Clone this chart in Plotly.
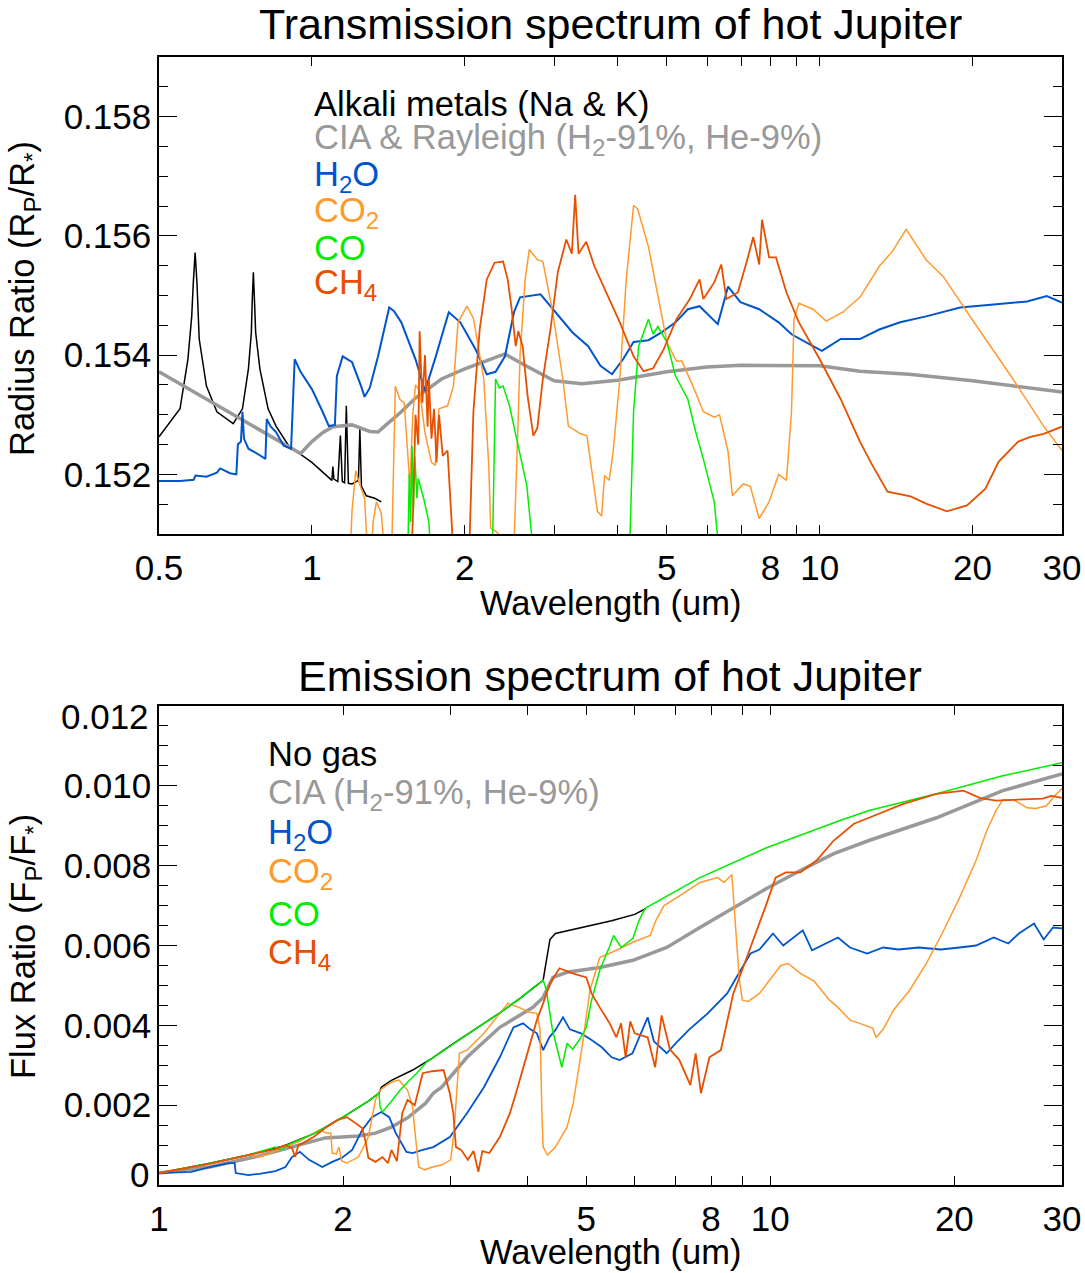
import math
import plotly.graph_objects as go

# ---------------- Transmission spectrum (top) ----------------
BOT = 0.1500  # below the visible axis range (saturated absorption)

t_alk_wl = [0.5, 0.55, 0.57, 0.58, 0.584, 0.589, 0.594, 0.6, 0.62, 0.65, 0.7, 0.73, 0.75, 0.76, 0.763,
            0.767, 0.771, 0.775, 0.79, 0.82, 0.85, 0.9, 1.0, 1.095, 1.1, 1.105, 1.125, 1.138, 1.148,
            1.16, 1.169, 1.18, 1.2, 1.235, 1.243, 1.252, 1.28, 1.33, 1.37]
t_alk_val = [0.15263, 0.1531, 0.15393, 0.15465, 0.1552, 0.15572, 0.1552, 0.15427, 0.15348, 0.15305,
             0.15285, 0.1531, 0.15377, 0.15438, 0.1549, 0.15539, 0.1549, 0.15438, 0.15377, 0.1531,
             0.15281, 0.15248, 0.1522, 0.1519, 0.15213, 0.15192, 0.15188, 0.15265, 0.15188, 0.15186,
             0.15315, 0.15185, 0.15184, 0.1519, 0.15276, 0.1518, 0.15164, 0.1516, 0.15154]

t_cia_wl = [0.5, 0.6, 0.7, 0.8, 0.9, 0.95, 1.0, 1.05, 1.1, 1.2, 1.3, 1.35, 1.4, 1.5, 1.6, 1.7, 1.8, 2.0,
            2.2, 2.4, 2.6, 2.8, 3.0, 3.4, 4.0, 5.0, 6.0, 7.0, 9.0, 10, 12, 15, 20, 25, 30]
t_cia_val = [0.15372, 0.15333, 0.15300, 0.15271, 0.15245, 0.15235, 0.15255, 0.1527, 0.1528, 0.15283,
             0.15272, 0.15271, 0.15283, 0.15305, 0.15328, 0.15345, 0.1536, 0.15377, 0.1539, 0.15402,
             0.15385, 0.1537, 0.15357, 0.15352, 0.15358, 0.15372, 0.1538, 0.15383, 0.15383, 0.15382,
             0.15373, 0.15368, 0.15357, 0.15347, 0.15338]

t_h2o_wl = [0.5, 0.55, 0.585, 0.59, 0.62, 0.65, 0.66, 0.69, 0.71, 0.715, 0.725, 0.73, 0.735, 0.75,
            0.78, 0.81, 0.815, 0.83, 0.85, 0.88, 0.91, 0.925, 0.95, 1.0, 1.05, 1.08, 1.11, 1.12, 1.15,
            1.2, 1.25, 1.27, 1.3, 1.35, 1.42, 1.45, 1.5, 1.6, 1.67, 1.75, 1.86, 1.96, 2.1, 2.21, 2.3,
            2.4, 2.5, 2.57, 2.82, 2.98, 3.26, 3.5, 3.7, 3.9, 4.1, 4.3, 4.6, 4.88, 5.2, 5.5, 5.8, 6.3,
            6.6, 6.98, 7.6, 8.3, 8.8, 9.7, 10.1, 11, 12, 13.1, 14.4, 16.2, 18.9, 22, 25.6, 28, 30]
t_h2o_val = [0.15189, 0.15189, 0.15191, 0.15198, 0.15196, 0.15203, 0.1521, 0.15202, 0.152, 0.1525,
             0.15255, 0.15305, 0.1526, 0.15243, 0.15235, 0.15226, 0.15293, 0.1528, 0.15271, 0.15248,
             0.15243, 0.15393, 0.15372, 0.15343, 0.15305, 0.15281, 0.15283, 0.15365, 0.15398,
             0.15388, 0.15348, 0.1533, 0.15345, 0.15398, 0.1548, 0.15474, 0.15455, 0.15393, 0.1534,
             0.15395, 0.15472, 0.15455, 0.1541, 0.15368, 0.15372, 0.15398, 0.15472, 0.15497,
             0.15502, 0.15477, 0.15438, 0.15415, 0.15382, 0.15368, 0.15393, 0.15422, 0.15425,
             0.15438, 0.15455, 0.15477, 0.15482, 0.15452, 0.15515, 0.15489, 0.15477, 0.15455,
             0.15435, 0.15415, 0.15407, 0.15427, 0.15427, 0.15443, 0.15455, 0.15465, 0.1548,
             0.15485, 0.1549, 0.15499, 0.15488]

t_co2_wl = [1.18, 1.2, 1.22, 1.24, 1.27, 1.3, 1.32, 1.34, 1.37, 1.41, 1.43, 1.46, 1.49, 1.52, 1.54,
            1.56, 1.58, 1.6, 1.63, 1.67, 1.72, 1.75, 1.78, 1.85, 1.9, 1.94, 2.02, 2.08, 2.18, 2.23,
            2.25, 2.3, 2.4, 2.5, 2.55, 2.57, 2.63, 2.68, 2.78, 2.85, 2.98, 3.12, 3.2, 3.38, 3.48,
            3.55, 3.65, 3.72, 3.75, 3.77, 3.85, 3.92, 4.04, 4.16, 4.3, 4.38, 4.6, 4.8, 5.0, 5.22,
            5.35, 5.63, 5.9, 6.2, 6.35, 6.6, 6.73, 7.07, 7.3, 7.6, 7.95, 8.3, 8.6, 8.8, 8.9, 9.1,
            9.7, 10.3, 11.1, 12, 13.1, 13.9, 14.8, 16.2, 17.5, 20.4, 23.8, 27.6, 30]
t_co2_val = [BOT, 0.1514, 0.15206, 0.15185, 0.1516, BOT, 0.1512, 0.15154, 0.15135, BOT, BOT,
             0.15348, 0.15326, 0.1532, 0.1525, 0.1518, 0.153, 0.1535, 0.1534, 0.1527, 0.1522,
             0.15215, 0.1531, 0.15315, 0.15348, 0.15455, 0.15482, 0.15462, 0.1536, 0.15215,
             0.1511, 0.15105, 0.1509, 0.1508, 0.153, 0.154, 0.15527, 0.15577, 0.1556, 0.15557,
             0.15472, 0.1536, 0.15281, 0.15268, 0.15265, 0.1521, 0.15138, 0.1513, 0.1518, 0.15198,
             0.1519, 0.15238, 0.1536, 0.15527, 0.15651, 0.15645, 0.15582, 0.15499, 0.15422,
             0.1539, 0.1539, 0.15348, 0.15305, 0.15296, 0.153, 0.15238, 0.15164, 0.15184, 0.1518,
             0.15126, 0.15154, 0.152, 0.1519, 0.15305, 0.1546, 0.15487, 0.15477, 0.15457, 0.15472,
             0.15497, 0.15549, 0.15574, 0.15611, 0.1556, 0.15532, 0.15448, 0.15365, 0.15281, 0.1524]

t_co_wl = [1.54, 1.555, 1.565, 1.575, 1.585, 1.595, 1.61, 1.62, 1.66, 1.7, 1.73, 2.26, 2.3, 2.34,
           2.38, 2.45, 2.53, 2.65, 2.78, 4.2, 4.3, 4.4, 4.6, 4.7, 4.8, 5.0, 5.2, 5.5, 5.7, 5.9, 6.2, 6.45]
t_co_val = [BOT, 0.1520, 0.1512, 0.15248, 0.1514, 0.1523, 0.1516, 0.15193, 0.1516, 0.1512, BOT, BOT,
            0.1536, 0.15345, 0.15348, 0.15315, 0.1526, 0.15181, BOT, BOT, 0.15305, 0.15415, 0.1546,
            0.15435, 0.15448, 0.15422, 0.15365, 0.15326, 0.15271, 0.15226, 0.15154, BOT]

t_ch4_wl = [1.56, 1.58, 1.6, 1.62, 1.63, 1.65, 1.67, 1.69, 1.7, 1.72, 1.74, 1.76, 1.78, 1.81, 1.85,
            1.88, 1.92, 2.03, 2.06, 2.08, 2.14, 2.21, 2.29, 2.38, 2.43, 2.47, 2.52, 2.55, 2.6, 2.66,
            2.73, 2.78, 2.85, 2.95, 3.05, 3.17, 3.25, 3.3, 3.35, 3.47, 3.6, 3.8, 4.04, 4.3, 4.5, 4.7,
            4.93, 5.22, 5.55, 5.8, 5.9, 6.2, 6.4, 6.55, 6.9, 7.2, 7.4, 7.6, 7.7, 7.95, 8.2, 8.6, 9.1,
            10, 11, 12, 12.7, 13.6, 15.1, 16.2, 17.8, 19.5, 21.2, 22.5, 24.6, 26, 27.6, 30]
t_ch4_val = [BOT, 0.1512, 0.153, 0.1525, 0.1544, 0.1532, 0.154, 0.1528, 0.1536, 0.1526, 0.1531,
             0.1522, 0.153, 0.15231, 0.1524, 0.15138, BOT, BOT, 0.152, 0.15305, 0.15443, 0.15527,
             0.15555, 0.15557, 0.15527, 0.15482, 0.15415, 0.1544, 0.15415, 0.15331, 0.15265,
             0.15278, 0.1536, 0.15443, 0.15539, 0.15594, 0.1557, 0.15669, 0.1557, 0.1559, 0.15549,
             0.15505, 0.15455, 0.15398, 0.15373, 0.15378, 0.1541, 0.1546, 0.15494, 0.15527,
             0.15494, 0.15522, 0.15552, 0.15494, 0.15505, 0.1556, 0.15598, 0.15552, 0.15627,
             0.15564, 0.15564, 0.15505, 0.15455, 0.15393, 0.15326, 0.15255, 0.15215, 0.15171,
             0.15163, 0.15151, 0.15138, 0.15148, 0.15176, 0.15221, 0.15255, 0.15263, 0.15268, 0.1528]

# ---------------- Emission spectrum (bottom) ----------------
e_nogas_wl = [1.0, 1.2, 1.4, 1.6, 1.8, 2.0, 2.2, 2.29, 2.31, 2.4, 2.6, 2.8, 3.0, 3.3, 3.6, 3.9, 4.1,
              4.25, 4.3, 4.36, 4.45, 4.7, 5.0, 5.26, 5.5, 6.0, 6.25]
e_nogas_val = [0.0003, 0.00053, 0.00075, 0.00098, 0.0013, 0.0017, 0.0021, 0.0023, 0.00245, 0.00262,
               0.00288, 0.00318, 0.0035, 0.00392, 0.0043, 0.00468, 0.00495, 0.00513, 0.0056,
               0.00615, 0.0063, 0.00638, 0.00648, 0.00655, 0.00662, 0.00678, 0.00692]

e_cia_wl = [1.0, 1.21, 1.46, 1.65, 1.87, 2.12, 2.26, 2.4, 2.56, 2.73, 2.81, 2.9, 3.19, 3.61, 4.09,
            4.25, 4.41, 4.65, 5.26, 5.96, 6.77, 7.67, 8.7, 9.86, 11.2, 12.7, 14.5, 18.7, 24, 30]
e_cia_val = [0.0003, 0.00045, 0.00073, 0.00095, 0.00118, 0.00123, 0.0013, 0.00145, 0.0017, 0.00205,
             0.0023, 0.00245, 0.0032, 0.00395, 0.00445, 0.0047, 0.0052, 0.00533, 0.00545, 0.00563,
             0.00595, 0.00645, 0.00693, 0.00743, 0.00788, 0.0083, 0.00863, 0.0092, 0.00988, 0.0103]

e_h2o_wl = [1.0, 1.13, 1.21, 1.3, 1.33, 1.335, 1.4, 1.46, 1.55, 1.61, 1.65, 1.7, 1.76, 1.85, 1.92,
            1.99, 2.07, 2.15, 2.23, 2.31, 2.38, 2.44, 2.54, 2.6, 2.7, 2.81, 2.99, 3.19, 3.4, 3.61,
            3.8, 3.94, 4.05, 4.15, 4.25, 4.35, 4.45, 4.58, 4.7, 4.9, 5.1, 5.3, 5.5, 5.67, 5.95, 6.1,
            6.3, 6.45, 6.77, 7.0, 7.35, 7.9, 8.5, 8.8, 9.28, 9.6, 10.1, 10.5, 11.3, 11.7, 12.3, 12.9,
            13.5, 14.4, 15.3, 16.2, 17.5, 19, 20.4, 21.7, 23.2, 24.5, 25.5, 27, 28, 29, 30]
e_h2o_val = [0.0003, 0.00033, 0.00045, 0.00055, 0.00055, 0.0003, 0.00025, 0.00028, 0.00035, 0.00045,
             0.0007, 0.00083, 0.00063, 0.00045, 0.00058, 0.00068, 0.00088, 0.00138, 0.0017,
             0.00183, 0.0017, 0.0013, 0.00083, 0.0008, 0.00088, 0.00095, 0.0012, 0.0018, 0.00245,
             0.0032, 0.00395, 0.00405, 0.0039, 0.0038, 0.00338, 0.0037, 0.00388, 0.0042, 0.0039,
             0.0038, 0.00363, 0.00345, 0.0032, 0.00313, 0.0033, 0.0037, 0.0042, 0.0036, 0.0033,
             0.00355, 0.00388, 0.0043, 0.0048, 0.0052, 0.0058, 0.0059, 0.0063, 0.006, 0.00638,
             0.00588, 0.00605, 0.0062, 0.00595, 0.0058, 0.00595, 0.0059, 0.00595, 0.0059, 0.00595,
             0.006, 0.0062, 0.00605, 0.0063, 0.00655, 0.00615, 0.00645, 0.00643]

e_co2_wl = [1.0, 1.21, 1.4, 1.46, 1.52, 1.6, 1.7, 1.83, 1.88, 1.91, 1.92, 1.95, 1.97, 1.99, 2.03,
            2.12, 2.2, 2.26, 2.3, 2.4, 2.47, 2.55, 2.6, 2.62, 2.66, 2.72, 2.8, 2.9, 3.0, 3.04, 3.08,
            3.1, 3.19, 3.4, 3.61, 3.72, 3.88, 4.04, 4.15, 4.2, 4.23, 4.25, 4.32, 4.45, 4.65, 4.76,
            4.92, 5.07, 5.26, 5.6, 5.96, 6.36, 6.5, 6.7, 7.2, 7.67, 8.2, 8.4, 8.65, 8.8, 8.9, 9.0,
            9.2, 9.6, 10.0, 10.4, 10.7, 11.2, 11.8, 12.5, 12.9, 13.5, 14.0, 14.7, 14.9, 15.3, 15.9,
            16.9, 18.0, 19.1, 20.4, 21.7, 22.6, 23.4, 24.0, 25.0, 26.3, 27.2, 28.3, 29.2, 30]
e_co2_val = [0.0003, 0.00053, 0.00075, 0.0007, 0.0008, 0.00093, 0.0011, 0.00138, 0.0013, 0.0013,
             0.0008, 0.00078, 0.00095, 0.0006, 0.00055, 0.0007, 0.0012, 0.00213, 0.00238, 0.00258,
             0.00263, 0.00238, 0.00195, 0.00138, 0.00045, 0.00038, 0.00045, 0.0005, 0.00063,
             0.00138, 0.0028, 0.0033, 0.00338, 0.0038, 0.0043, 0.00455, 0.00445, 0.00433, 0.0043,
             0.0039, 0.0018, 0.00095, 0.00075, 0.00095, 0.00145, 0.00205, 0.00345, 0.00488,
             0.0057, 0.00588, 0.00608, 0.00625, 0.00663, 0.007, 0.0073, 0.00758, 0.0077, 0.00758,
             0.00778, 0.0062, 0.00513, 0.00463, 0.0046, 0.0048, 0.00515, 0.0055, 0.00555, 0.0053,
             0.0051, 0.00463, 0.00445, 0.00413, 0.00405, 0.00393, 0.0037, 0.0039, 0.00438,
             0.00488, 0.00555, 0.0063, 0.0072, 0.00813, 0.00888, 0.00938, 0.00965, 0.00965,
             0.00945, 0.00943, 0.0095, 0.00975, 0.00993]

e_co_wl = [1.0, 1.2, 1.4, 1.55, 1.58, 1.62, 1.8, 2.0, 2.2, 2.29, 2.3, 2.32, 2.4, 2.48, 2.56, 2.64,
           2.74, 2.8, 3.0, 3.3, 3.6, 3.9, 4.1, 4.25, 4.3, 4.4, 4.5, 4.56, 4.65, 4.75, 4.9, 5.0, 5.1,
           5.26, 5.45, 5.54, 5.7, 5.96, 6.1, 6.24, 7.67, 9.86, 13.0, 14.5, 18.7, 24.0, 30]
e_co_val = [0.0003, 0.00053, 0.00075, 0.00095, 0.00088, 0.001, 0.0013, 0.0017, 0.0021, 0.0023,
            0.00195, 0.00183, 0.0021, 0.00238, 0.0026, 0.0028, 0.00308, 0.00318, 0.0035, 0.00392,
            0.0043, 0.00468, 0.00495, 0.00513, 0.0049, 0.0039, 0.0033, 0.00295, 0.00355, 0.0034,
            0.0037, 0.00395, 0.00463, 0.00538, 0.00595, 0.00625, 0.00595, 0.00618, 0.00663,
            0.00693, 0.0077, 0.00845, 0.00913, 0.00938, 0.0098, 0.01025, 0.01058]

e_ch4_wl = [1.0, 1.21, 1.4, 1.55, 1.61, 1.65, 1.67, 1.69, 1.72, 1.79, 1.87, 1.96, 2.03, 2.1, 2.15,
            2.18, 2.2, 2.26, 2.32, 2.37, 2.4, 2.45, 2.5, 2.55, 2.62, 2.7, 2.8, 2.92, 2.99, 3.03,
            3.06, 3.12, 3.2, 3.27, 3.33, 3.38, 3.47, 3.61, 3.75, 3.85, 4.0, 4.15, 4.25, 4.36, 4.52,
            4.75, 5.0, 5.1, 5.26, 5.46, 5.6, 5.7, 5.8, 5.9, 6.0, 6.3, 6.48, 6.64, 6.85, 7.1, 7.4,
            7.55, 7.7, 7.95, 8.3, 8.5, 8.7, 9.0, 9.28, 9.86, 10.2, 10.6, 11.2, 11.9, 12.7, 13.7,
            14.5, 16.5, 18.7, 20.7, 22.0, 23.4, 25.0, 27.9, 28.8, 30]
e_ch4_val = [0.0003, 0.00053, 0.00075, 0.0009, 0.001, 0.00093, 0.0007, 0.001, 0.00105, 0.0012,
             0.00143, 0.00163, 0.0017, 0.00155, 0.00143, 0.00105, 0.00068, 0.00058, 0.0007,
             0.00055, 0.00088, 0.0006, 0.0018, 0.00213, 0.002, 0.0028, 0.00285, 0.00288, 0.0023,
             0.0018, 0.00095, 0.00088, 0.00063, 0.00085, 0.00033, 0.00085, 0.0008, 0.0012, 0.0018,
             0.00238, 0.0033, 0.00413, 0.00455, 0.00505, 0.00543, 0.0053, 0.0052, 0.0048, 0.00445,
             0.00405, 0.0037, 0.00405, 0.0032, 0.0041, 0.0038, 0.0037, 0.00295, 0.00425, 0.0034,
             0.00313, 0.0025, 0.0033, 0.0023, 0.0032, 0.00338, 0.00413, 0.0048, 0.0054, 0.00595,
             0.00705, 0.0077, 0.00783, 0.00783, 0.00813, 0.00863, 0.00905, 0.0092, 0.00955, 0.0098,
             0.00988, 0.0097, 0.00963, 0.00965, 0.00968, 0.00975, 0.0097]

# tick definitions
t_xticks = [0.5, 1, 2, 3, 4, 5, 6, 7, 8, 9, 10, 20, 30]
t_xlabels = ["0.5", "1", "2", "", "", "5", "", "", "8", "", "10", "20", "30"]
t_yticks = [0.152, 0.154, 0.156, 0.158]
t_ylabels = ["0.152", "0.154", "0.156", "0.158"]
e_xticks = [1, 2, 3, 4, 5, 6, 7, 8, 9, 10, 20, 30]
e_xlabels = ["1", "2", "", "", "5", "", "", "8", "", "10", "20", "30"]
e_yticks = [0, 0.002, 0.004, 0.006, 0.008, 0.010, 0.012]
e_ylabels = ["", "0.002", "0.004", "0.006", "0.008", "0.010", ""]
e_yend_labels = ["0", "0.012"]

# ---------------- styling ----------------
BLACK = "#000000"
GRAY = "#999999"
BLUE = "#0055CC"
ORANGE = "#FF9A2E"
GREEN = "#00EE00"
RED = "#E65000"
FONT = "Liberation Sans, Arial, sans-serif"
FS = 34.5
TFS = 35

fig = go.Figure()

def add(x, y, color, width, xa, ya):
    fig.add_trace(go.Scatter(x=x, y=y, mode="lines", line=dict(color=color, width=width),
                             xaxis=xa, yaxis=ya, showlegend=False, hoverinfo="skip"))

add(t_alk_wl, t_alk_val, BLACK, 1.5, "x", "y")
add(t_cia_wl, t_cia_val, GRAY, 3.5, "x", "y")
add(t_h2o_wl, t_h2o_val, BLUE, 2, "x", "y")
add(t_co2_wl, t_co2_val, ORANGE, 1.5, "x", "y")
add(t_co_wl, t_co_val, GREEN, 1.5, "x", "y")
add(t_ch4_wl, t_ch4_val, RED, 1.8, "x", "y")

add(e_nogas_wl, e_nogas_val, BLACK, 1.5, "x2", "y2")
add(e_cia_wl, e_cia_val, GRAY, 3.5, "x2", "y2")
add(e_h2o_wl, e_h2o_val, BLUE, 1.8, "x2", "y2")
add(e_co2_wl, e_co2_val, ORANGE, 1.5, "x2", "y2")
add(e_co_wl, e_co_val, GREEN, 1.5, "x2", "y2")
add(e_ch4_wl, e_ch4_val, RED, 1.8, "x2", "y2")

H = 1273
TOPPX, BOTPX = 57, 1185
PH = BOTPX - TOPPX

def py(ypix):
    return (BOTPX - ypix) / PH

def px(xpix):
    return (xpix - 159) / 903

axis_common = dict(showline=True, linecolor="black", linewidth=1.5, mirror="allticks",
                   ticks="inside", tickcolor="black", showgrid=False, zeroline=False,
                   automargin=False,
                   tickfont=dict(family=FONT, size=TFS, color="black"))

fig.update_layout(
    width=1085, height=H,
    margin=dict(l=159, r=23, t=TOPPX, b=H - BOTPX, autoexpand=False),
    paper_bgcolor="white", plot_bgcolor="white",
    font=dict(family=FONT, size=FS, color="black"),
    xaxis=dict(type="log", range=[math.log10(0.5), math.log10(30)], domain=[0, 1], anchor="y",
               tickvals=t_xticks, ticktext=t_xlabels, ticklen=9, ticklabelstandoff=2, **axis_common),
    yaxis=dict(range=[0.151, 0.159], domain=[py(534), 1.0], anchor="x",
               tickvals=t_yticks, ticktext=t_ylabels, ticklen=18, ticklabelstandoff=-1,
               minor=dict(dtick=0.0005, tick0=0.151, ticklen=9, ticks="inside", tickcolor="black"),
               **axis_common),
    xaxis2=dict(type="log", range=[0, math.log10(30)], domain=[0, 1], anchor="y2",
                tickvals=e_xticks, ticktext=e_xlabels, ticklen=9, ticklabelstandoff=2, **axis_common),
    yaxis2=dict(range=[0, 0.012], domain=[0, py(706)], anchor="x2",
                tickvals=e_yticks, ticktext=e_ylabels, ticklen=18, ticklabelstandoff=-1,
                minor=dict(dtick=0.0005, tick0=0, ticklen=9, ticks="inside", tickcolor="black"),
                **axis_common),
)

ann = []
def text(x, y, s, color="black", size=FS, angle=0, xanchor="center"):
    ann.append(dict(x=x, y=y, xref="paper", yref="paper", text=s, showarrow=False,
                    font=dict(family=FONT, size=size, color=color), textangle=angle,
                    xanchor=xanchor, yanchor="middle"))

text(px(610), py(24), "Transmission spectrum of hot Jupiter", size=43)
text(px(610), py(676), "Emission spectrum of hot Jupiter", size=43)
text(px(610), py(603), "Wavelength (um)")
text(px(610), py(1252), "Wavelength (um)")
text(px(25), py(299), "Radius Ratio (R<sub>P</sub>/R<sub>*</sub>)", angle=-90)
text(px(25), py(947), "Flux Ratio (F<sub>P</sub>/F<sub>*</sub>)", angle=-90)
# end labels of the emission y axis sit slightly inside the frame, as in the original
text(px(151), py(1174), e_yend_labels[0], size=TFS, xanchor="right")
text(px(151), py(716), e_yend_labels[1], size=TFS, xanchor="right")

top_leg = [("Alkali metals (Na &amp; K)", BLACK), ("CIA &amp; Rayleigh (H<sub>2</sub>-91%, He-9%)", GRAY),
           ("H<sub>2</sub>O", BLUE), ("CO<sub>2</sub>", ORANGE), ("CO", GREEN), ("CH<sub>4</sub>", RED)]
for i, (s, c) in enumerate(top_leg):
    text(px(312), py(104 + 36 * i), s, color=c, xanchor="left")
bot_leg = [("No gas", BLACK), ("CIA (H<sub>2</sub>-91%, He-9%)", GRAY), ("H<sub>2</sub>O", BLUE),
           ("CO<sub>2</sub>", ORANGE), ("CO", GREEN), ("CH<sub>4</sub>", RED)]
for i, (s, c) in enumerate(bot_leg):
    text(px(266), py(754 + 40 * i), s, color=c, xanchor="left")

fig.update_layout(annotations=ann)
fig.write_html("out.html")
